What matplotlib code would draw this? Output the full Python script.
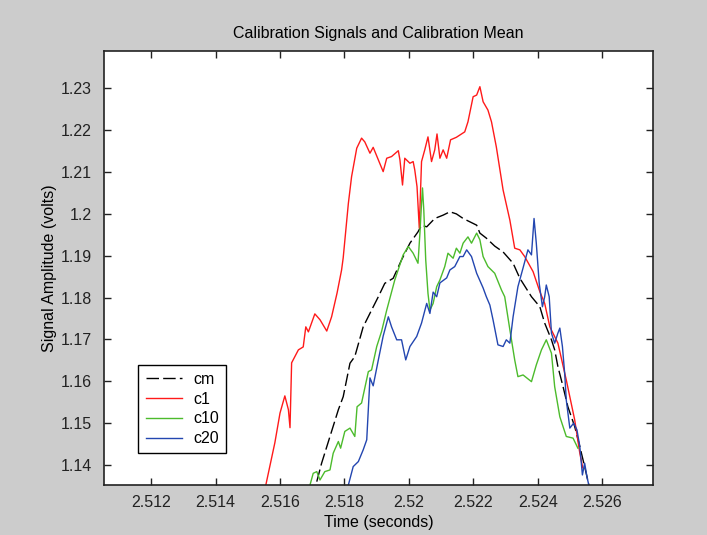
import matplotlib
matplotlib.use('Agg')
import matplotlib.pyplot as plt

# calibration mean (cm)
t_cm = [2.51714, 2.51729, 2.51755, 2.51781, 2.51796, 2.51817, 2.51832, 2.51858, 2.51884, 2.51905,
        2.51925, 2.51951, 2.51977, 2.52003, 2.52028, 2.52039, 2.52055, 2.52080, 2.52106, 2.52127,
        2.52147, 2.52168, 2.52189, 2.52210, 2.52220, 2.52240, 2.52266, 2.52292, 2.52323, 2.52344,
        2.52380, 2.52406, 2.52421, 2.52442, 2.52452, 2.52462, 2.52478, 2.52493, 2.52514, 2.52530,
        2.52545, 2.52558]
v_cm = [1.1360, 1.1404, 1.1468, 1.1532, 1.1563, 1.1643, 1.1659, 1.1730, 1.1770, 1.1802,
        1.1834, 1.1846, 1.1890, 1.1930, 1.1957, 1.1973, 1.1969, 1.1989, 1.1997, 1.2005,
        1.2000, 1.1989, 1.1981, 1.1973, 1.1954, 1.1942, 1.1923, 1.1909, 1.1882, 1.1846,
        1.1802, 1.1778, 1.1739, 1.1699, 1.1675, 1.1635, 1.1587, 1.1539, 1.1492, 1.1444,
        1.1396, 1.1352]

# signal c1
t_c1 = [2.51556, 2.51584, 2.51600, 2.51615, 2.51626, 2.51631, 2.51636, 2.51657, 2.51672, 2.51680,
        2.51688, 2.51708, 2.51724, 2.51745, 2.51760, 2.51777, 2.51791, 2.51796, 2.51812, 2.51822,
        2.51838, 2.51853, 2.51863, 2.51879, 2.51889, 2.51920, 2.51931, 2.51946, 2.51967, 2.51972,
        2.51980, 2.51987, 2.52003, 2.52013, 2.52018, 2.52025, 2.52032, 2.52039, 2.52049, 2.52059,
        2.52070, 2.52080, 2.52087, 2.52096, 2.52106, 2.52117, 2.52129, 2.52147, 2.52173, 2.52183,
        2.52199, 2.52210, 2.52220, 2.52230, 2.52245, 2.52256, 2.52271, 2.52292, 2.52313, 2.52328,
        2.52344, 2.52359, 2.52385, 2.52406, 2.52421, 2.52437, 2.52462, 2.52488, 2.52514, 2.52530,
        2.52539]
v_c1 = [1.1352, 1.1453, 1.1524, 1.1565, 1.1532, 1.1489, 1.1644, 1.1675, 1.1682, 1.1730,
        1.1718, 1.1761, 1.1747, 1.1720, 1.1754, 1.1811, 1.1866, 1.1895, 1.2025, 1.2089,
        1.2157, 1.2181, 1.2172, 1.2145, 1.2159, 1.2101, 1.2133, 1.2137, 1.2151, 1.2129,
        1.2069, 1.2133, 1.2121, 1.2125, 1.2105, 1.2065, 1.1966, 1.2125, 1.2153, 1.2184,
        1.2125, 1.2153, 1.2191, 1.2133, 1.2153, 1.2133, 1.2177, 1.2183, 1.2196, 1.2220,
        1.2280, 1.2284, 1.2304, 1.2268, 1.2248, 1.2220, 1.2160, 1.2057, 1.1985, 1.1918,
        1.1914, 1.1898, 1.1862, 1.1814, 1.1786, 1.1730, 1.1691, 1.1603, 1.1508, 1.1428,
        1.1393]

# signal c10
t_c10 = [2.51693, 2.51703, 2.51714, 2.51724, 2.51739, 2.51755, 2.51765, 2.51781, 2.51788, 2.51801,
         2.51817, 2.51832, 2.51839, 2.51853, 2.51874, 2.51884, 2.51900, 2.51915, 2.51931, 2.51956,
         2.51982, 2.51998, 2.52013, 2.52028, 2.52034, 2.52039, 2.52042, 2.52046, 2.52052, 2.52059,
         2.52065, 2.52075, 2.52086, 2.52096, 2.52111, 2.52121, 2.52137, 2.52147, 2.52158, 2.52168,
         2.52183, 2.52194, 2.52210, 2.52220, 2.52230, 2.52245, 2.52266, 2.52287, 2.52297, 2.52313,
         2.52328, 2.52338, 2.52354, 2.52380, 2.52395, 2.52411, 2.52426, 2.52442, 2.52452, 2.52468,
         2.52488, 2.52509, 2.52524]
v_c10 = [1.1352, 1.1380, 1.1384, 1.1364, 1.1384, 1.1388, 1.1428, 1.1456, 1.1440, 1.1480,
         1.1488, 1.1468, 1.1539, 1.1548, 1.1623, 1.1627, 1.1683, 1.1719, 1.1770, 1.1842,
         1.1902, 1.1922, 1.1906, 1.1882, 1.1954, 1.2025, 1.2062, 1.2009, 1.1890, 1.1810,
         1.1770, 1.1786, 1.1826, 1.1842, 1.1874, 1.1906, 1.1894, 1.1918, 1.1906, 1.1930,
         1.1945, 1.1930, 1.1954, 1.1938, 1.1898, 1.1874, 1.1858, 1.1818, 1.1802, 1.1723,
         1.1651, 1.1611, 1.1615, 1.1599, 1.1639, 1.1675, 1.1699, 1.1667, 1.1587, 1.1515,
         1.1468, 1.1464, 1.1440]

# signal c20
t_c20 = [2.51812, 2.51827, 2.51843, 2.51858, 2.51869, 2.51879, 2.51889, 2.51905, 2.51920, 2.51936,
         2.51946, 2.51962, 2.51977, 2.51990, 2.52003, 2.52024, 2.52039, 2.52055, 2.52065, 2.52075,
         2.52086, 2.52096, 2.52117, 2.52127, 2.52142, 2.52158, 2.52168, 2.52179, 2.52194, 2.52210,
         2.52230, 2.52240, 2.52251, 2.52261, 2.52276, 2.52292, 2.52302, 2.52313, 2.52323, 2.52338,
         2.52354, 2.52369, 2.52380, 2.52388, 2.52395, 2.52404, 2.52414, 2.52421, 2.52426, 2.52435,
         2.52442, 2.52452, 2.52462, 2.52468, 2.52476, 2.52483, 2.52488, 2.52499, 2.52511, 2.52521,
         2.52530, 2.52538, 2.52545, 2.52552, 2.52559]
v_c20 = [1.1352, 1.1396, 1.1408, 1.1436, 1.1460, 1.1608, 1.1589, 1.1651, 1.1708, 1.1754,
         1.1730, 1.1699, 1.1699, 1.1651, 1.1683, 1.1707, 1.1739, 1.1786, 1.1762, 1.1813,
         1.1802, 1.1835, 1.1847, 1.1866, 1.1874, 1.1898, 1.1898, 1.1914, 1.1898, 1.1858,
         1.1823, 1.1802, 1.1782, 1.1746, 1.1687, 1.1683, 1.1699, 1.1691, 1.1754, 1.1826,
         1.1871, 1.1914, 1.1902, 1.1989, 1.1930, 1.1834, 1.1778, 1.1802, 1.1830, 1.1802,
         1.1715, 1.1691, 1.1715, 1.1727, 1.1683, 1.1619, 1.1555, 1.1488, 1.1500, 1.1484,
         1.1444, 1.1376, 1.1404, 1.1372, 1.1348]

xticks = [2.512, 2.514, 2.516, 2.518, 2.52, 2.522, 2.524, 2.526]
xticklabels = ['2.512', '2.514', '2.516', '2.518', '2.52', '2.522', '2.524', '2.526']
yticks = [1.14, 1.15, 1.16, 1.17, 1.18, 1.19, 1.2, 1.21, 1.22, 1.23]
yticklabels = ['1.14', '1.15', '1.16', '1.17', '1.18', '1.19', '1.2', '1.21', '1.22', '1.23']

plt.rcParams['font.family'] = ['Liberation Sans', 'DejaVu Sans']
fs = 11.5

fig = plt.figure(figsize=(7.07, 5.35), dpi=100, facecolor='#cccccc')
ax = fig.add_axes([104/707, 1 - 485/535, 549/707, 434.3/535])
ax.set_facecolor('white')

ax.plot(t_cm, v_cm, color='black', lw=1, linestyle=(0, (9, 3)), label='cm')
ax.plot(t_c1, v_c1, color='#ff1a1a', lw=1, label='c1')
ax.plot(t_c10, v_c10, color='#4cbb2c', lw=1, label='c10')
ax.plot(t_c20, v_c20, color='#2346b0', lw=1, label='c20')

ax.set_xlim(2.51054, 2.52757)
ax.set_ylim(1.1352, 1.2390)
ax.set_xticks(xticks)
ax.set_xticklabels(xticklabels)
ax.set_yticks(yticks)
ax.set_yticklabels(yticklabels)
ax.tick_params(direction='in', length=5, width=1, top=True, right=True,
               labelsize=fs, colors='#222222')
ax.tick_params(axis='y', pad=9)
ax.tick_params(axis='x', pad=7)
for s in ax.spines.values():
    s.set_linewidth(1.2)
    s.set_color('#222222')

ax.set_title('Calibration Signals and Calibration Mean', fontsize=fs, pad=9)
ax.set_xlabel('Time (seconds)', fontsize=fs, labelpad=4)
ax.set_ylabel('Signal Amplitude (volts)', fontsize=fs, labelpad=2)

leg = ax.legend(loc='lower left', bbox_to_anchor=(0.0625, 0.073), borderaxespad=0,
                fontsize=fs, fancybox=False, framealpha=1, edgecolor='black',
                handlelength=2.3, handletextpad=0.7, labelspacing=0.3,
                borderpad=0.45)
leg.get_frame().set_linewidth(1)

fig.savefig('out.png', dpi=100, facecolor=fig.get_facecolor())
